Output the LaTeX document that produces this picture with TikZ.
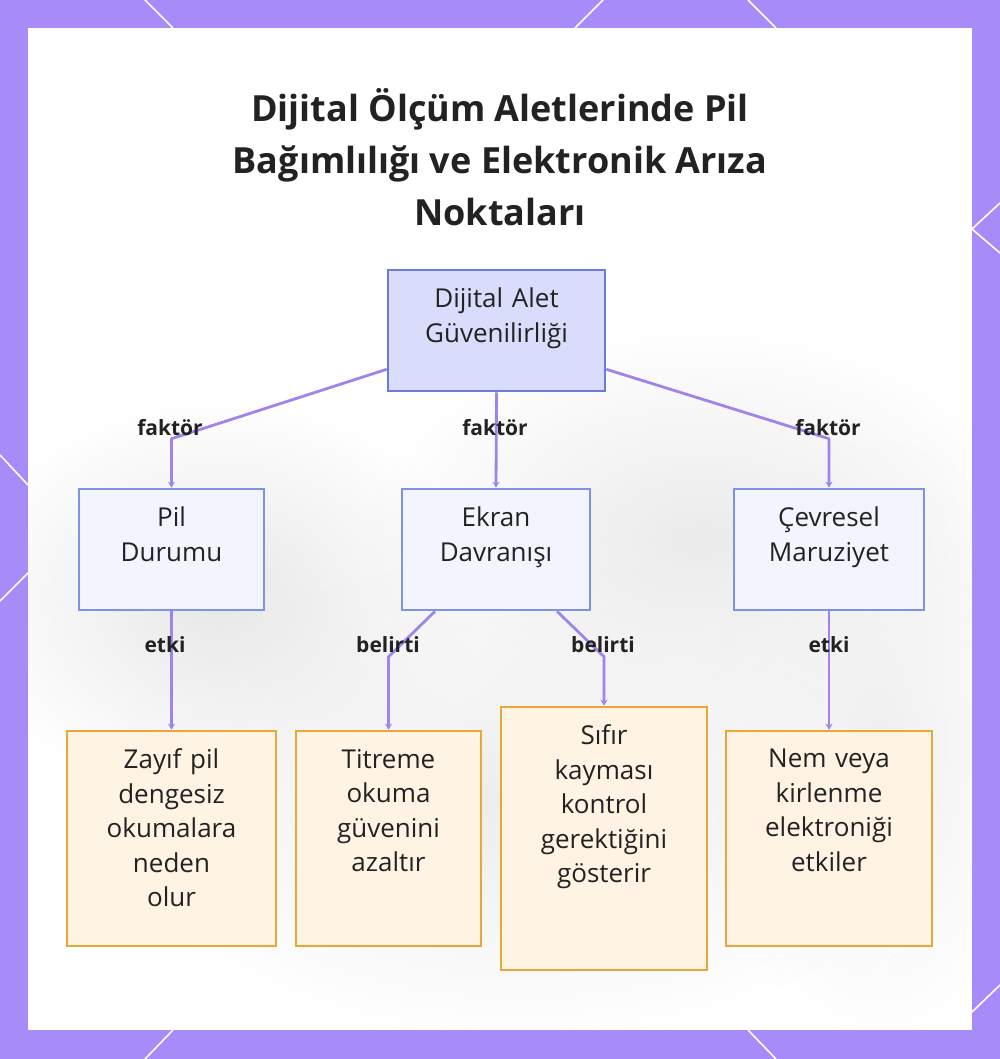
\documentclass[tikz,border=0pt]{standalone}
\usepackage{fontspec}
\setmainfont{Open Sans}
\usetikzlibrary{arrows.meta,fadings}

\definecolor{frameviolet}{HTML}{A78BF8}
\definecolor{linkviolet}{HTML}{A084EC}
\definecolor{rootfill}{HTML}{D9DCFA}
\definecolor{rootdraw}{HTML}{6B7CD6}
\definecolor{midfill}{HTML}{F3F5FE}
\definecolor{middraw}{HTML}{7D94E6}
\definecolor{leaffill}{HTML}{FFF3E3}
\definecolor{leafdraw}{HTML}{E8A838}
\definecolor{inkgray}{HTML}{222222}

\tikzfading[name=softblob, inner color=transparent!0, outer color=transparent!100]

% text set at the top of a box of given height
\newcommand{\toptext}[2]{\parbox[c][#1][t]{\linewidth}{\centering #2}}

\tikzset{
  boxtext/.style={font=\fontsize{26}{34.5}\selectfont, text=inkgray, align=center, inner sep=0pt},
  rootbox/.style={boxtext, draw=rootdraw, fill=rootfill, line width=2.6pt},
  midbox/.style={boxtext, draw=middraw, fill=midfill, line width=2.6pt},
  leafbox/.style={boxtext, draw=leafdraw, fill=leaffill, line width=2.6pt},
  link/.style={draw=linkviolet, line width=2.8pt, line join=round, -{Stealth[length=6pt,width=7pt]}},
  linklabel/.style={font=\fontsize{21}{24}\selectfont\bfseries, text=inkgray, inner sep=0pt},
  blob/.style={path fading=softblob},
}

\begin{document}
\begin{tikzpicture}[x=1pt, y=-1pt]
  \useasboundingbox (0,0) rectangle (1000,1059);
  % frame and panel
  \fill[frameviolet] (0,0) rectangle (1000,1059);
  \fill[white] (28,28) rectangle (972,1030);
  \begin{scope}[white, line width=1.6pt]
    \draw (145,0) -- (173,28) (603,0) -- (575,28) (748,0) -- (776,28);
    \draw (1000,203) -- (972,229) -- (1000,253);
    \draw (0,455) -- (28,485) (28,573) -- (0,601);
    \draw (173,1030) -- (145,1059) (748,1030) -- (776,1059);
    \draw (1000,985) -- (972,1012);
  \end{scope}
  % faint background blobs
  \begin{scope}
    \clip (28,28) rectangle (972,1030);
    \fill[black!9, blob] (220,600) ellipse (260 and 200);
    \fill[black!8, blob] (700,540) ellipse (330 and 210);
    \fill[black!7, blob] (520,800) ellipse (420 and 240);
    \fill[black!6, blob] (880,740) ellipse (170 and 300);
  \end{scope}
  \draw[white, line width=1pt] (920,985) circle (42);

  % title
  \node[font=\fontsize{36}{52}\selectfont\bfseries, text=inkgray, align=center] (title) at (500,157)
    {Dijital Ölçüm Aletlerinde Pil\\Bağımlılığı ve Elektronik Arıza\\Noktaları};

  % boxes
  \node[rootbox, text width=217pt, minimum height=121pt] (root) at (496.5,330.5)
    {\toptext{85pt}{Dijital Alet\\Güvenilirliği}};
  \node[midbox, text width=185pt, minimum height=121pt] (pil) at (171.5,549.5)
    {\toptext{85pt}{Pil\\Durumu}};
  \node[midbox, text width=188pt, minimum height=121pt] (ekran) at (496,549.5)
    {\toptext{85pt}{Ekran\\Davranışı}};
  \node[midbox, text width=190pt, minimum height=121pt] (cevre) at (829,549.5)
    {\toptext{85pt}{Çevresel\\Maruziyet}};
  \node[leafbox, text width=209pt, minimum height=215pt] (zayif) at (171.5,838.5)
    {\toptext{179pt}{Zayıf pil\\dengesiz\\okumalara\\neden\\olur}};
  \node[leafbox, text width=185pt, minimum height=215pt] (titreme) at (388.5,838.5)
    {\toptext{179pt}{Titreme\\okuma\\güvenini\\azaltır}};
  \node[leafbox, text width=206pt, minimum height=263pt] (sifir) at (604,838.5)
    {\toptext{227pt}{Sıfır\\kayması\\kontrol\\gerektiğini\\gösterir}};
  \node[leafbox, text width=206pt, minimum height=215pt] (nem) at (829,838.5)
    {\toptext{179pt}{Nem veya\\kirlenme\\elektroniği\\etkiler}};

  % connectors
  \draw[link] ([yshift=23pt]root.south west) -- ([yshift=49pt]pil.north) -- (pil.north);
  \draw[link] (root.south) -- (ekran.north);
  \draw[link] ([yshift=23pt]root.south east) -- ([yshift=49pt]cevre.north) -- (cevre.north);
  \draw[link] (pil.south) -- (zayif.north);
  \draw[link] ([xshift=-61pt]ekran.south) -- ([yshift=73pt]titreme.north) -- (titreme.north);
  \draw[link] ([xshift=61pt]ekran.south) -- ([yshift=49pt]sifir.north) -- (sifir.north);
  \draw[link] (cevre.south) -- (nem.north);

  % connector labels
  \node[linklabel] (lfa) at (170,428) {faktör};
  \node[linklabel] (lfb) at (495,428) {faktör};
  \node[linklabel] (lfc) at (828,428) {faktör};
  \node[linklabel] (lea) at (165,645) {etki};
  \node[linklabel] (lba) at (388,645) {belirti};
  \node[linklabel] (lbb) at (603,645) {belirti};
  \node[linklabel] (leb) at (829,645) {etki};
\end{tikzpicture}
\end{document}
